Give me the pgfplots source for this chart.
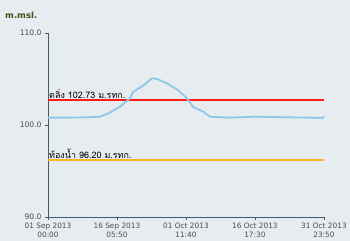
\documentclass[border=0pt]{standalone}
\usepackage{pgfplots}
\pgfplotsset{compat=1.18}
\usepackage{fontspec}
\setmainfont{DejaVu Sans}
\newfontfamily\thaifont[Script=Thai]{Loma}
\definecolor{bg}{HTML}{E6ECEF}
\definecolor{axcol}{HTML}{3C5F6E}
\definecolor{lblue}{HTML}{8EC8E6}
\definecolor{lred}{HTML}{FF1A1A}
\definecolor{lorange}{HTML}{F7B32B}
\definecolor{titlecol}{HTML}{3D5214}
\begin{document}
\begin{tikzpicture}[x=1bp,y=1bp]
\fill[bg] (0,0) rectangle (350,241);
\path[use as bounding box] (0,0) rectangle (350,241);
\node[anchor=base west, font=\bfseries\fontsize{8.5}{10}\selectfont, text=titlecol, inner sep=0] at (5,223) {m.msl.};
\begin{axis}[
  at={(48bp,24bp)}, anchor=origin,
  scale only axis, width=276bp, height=184bp,
  xmin=0, xmax=61, ymin=90, ymax=110,
  axis x line=bottom, axis y line=left,
  axis line style={axcol, line width=0.9pt, -},
  xtick={0,15.24,30.49,45.73,60.99},
  xticklabels={{01 Sep 2013\\00:00},{16 Sep 2013\\05:50},{01 Oct 2013\\11:40},{16 Oct 2013\\17:30},{31 Oct 2013\\23:50}},
  xticklabel style={align=center, font=\fontsize{7.4}{9}\selectfont, text=black!70},
  ytick={90,100,110},
  yticklabel style={font=\fontsize{7.6}{9}\selectfont, text=black!70, /pgf/number format/fixed, /pgf/number format/zerofill, /pgf/number format/precision=1},
  /pgf/number format/assume math mode=true,
  tick align=outside, major tick length=3bp,
  tick style={axcol, line width=0.8pt},
  clip=false,
]
\addplot[draw=lred, line width=1.3pt] coordinates {(0,102.73) (61,102.73)};
\addplot[draw=lorange, line width=1.3pt] coordinates {(0,96.2) (61,96.2)};
\addplot[draw=lblue, line width=1.8pt, line join=round] coordinates {
(0,100.8) (4.86,100.8) (9.28,100.85) (11.5,100.9) (13.5,101.3) (15.9,101.99) (18.1,102.9)
(18.8,103.6) (21.0,104.27) (23.0,105.08) (24.1,105.0) (26.3,104.53) (28.7,103.8) (30.7,102.9)
(32.0,101.99) (34.3,101.45) (35.8,100.9) (40.2,100.8) (45.7,100.9) (51.3,100.85)
(57.9,100.8) (60.6,100.75) (61,100.95)};
\node[anchor=south west, inner sep=1pt, font=\thaifont\fontsize{9}{10}\selectfont] at (axis cs:0,102.73) {ตลิ่ง 102.73 ม.รทก.};
\node[anchor=south west, inner sep=1pt, font=\thaifont\fontsize{9}{10}\selectfont] at (axis cs:0,96.2) {ท้องน้ำ 96.20 ม.รทก.};
\end{axis}
\end{tikzpicture}
\end{document}
